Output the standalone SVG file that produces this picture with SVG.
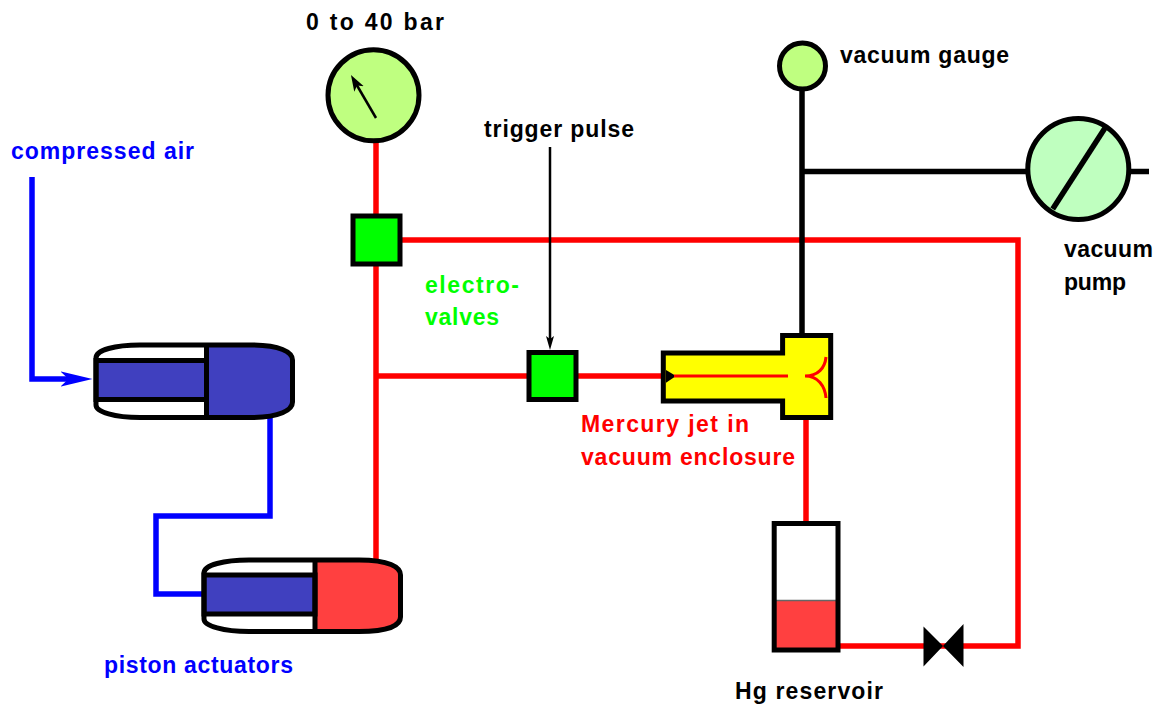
<svg xmlns="http://www.w3.org/2000/svg" width="1159" height="704" viewBox="0 0 1159 704">
<style>
text{font-family:"Liberation Sans",Arial,sans-serif;font-size:23px;font-weight:700;word-spacing:0}
.k{fill:#000}.b{fill:#0000ff}.r{fill:#ff0000}.g{fill:#00ff00}
.pr{fill:none;stroke:#ff0000;stroke-width:5.500}
.pb{fill:none;stroke:#0000ff;stroke-width:5.500}
.pk{fill:none;stroke:#000;stroke-width:5.500}
.o{stroke:#000;stroke-width:5}
.bl{fill:#4040bf}
</style>
<defs>
<marker id="ah" markerWidth="16" markerHeight="14" refX="8" refY="7" orient="auto" markerUnits="userSpaceOnUse"><path d="M0 1.500L16 7L0 12.500L4 7Z" fill="#000"/></marker>
<marker id="at" markerWidth="14" markerHeight="10" refX="7" refY="5" orient="auto" markerUnits="userSpaceOnUse"><path d="M0 1L14 5L0 9L3 5Z" fill="#000"/></marker>
<marker id="ab" markerWidth="32" markerHeight="16" refX="12" refY="8" orient="auto" markerUnits="userSpaceOnUse"><path d="M0 0.500L32 8L0 15.500L8 8Z" fill="#0000ff"/></marker>
</defs>
<rect width="1159" height="704" fill="#fff"/>
<g id="connectors">
<path class="pr" d="M376 140V560"/>
<path class="pr" d="M376 376H664"/>
<path class="pr" d="M400 240H1018V646H840"/>
<path class="pr" d="M806 416V524"/>
<path class="pk" d="M802 88V336"/>
<path class="pk" d="M802 171.500H1030"/>
<path class="pk" d="M1128 171.500H1149"/>
<path class="pb" d="M32 177V379H72.500" marker-end="url(#ab)"/>
<path class="pb" d="M270 416V516H156V594H205"/>
<path d="M550 147V343" fill="none" stroke="#000" stroke-width="2.500" marker-end="url(#at)"/>
</g>
<g id="pressure-gauge">
<circle class="o" cx="373.500" cy="95.300" r="45.500" fill="#bfff80"/>
<path d="M376 118L355 82" stroke="#000" stroke-width="2.500" marker-end="url(#ah)" fill="none"/>
</g>
<g id="vacuum-gauge"><circle class="o" cx="802.500" cy="66" r="23" fill="#bfff80"/></g>
<g id="vacuum-pump">
<circle class="o" cx="1078.300" cy="169" r="50.500" fill="#bfffbf"/>
<path class="pk" d="M1105 128L1052.700 209"/>
</g>
<g id="valve-top"><rect class="o" x="353" y="216" width="47" height="48" fill="#00ff00"/></g>
<g id="valve-mid"><rect class="o" x="529" y="352.500" width="47" height="47" fill="#00ff00"/></g>
<g id="enclosure">
<path d="M663.300 353H782.600V335.500H830.700V417.500H782.600V401H663.300Z" fill="#ffff00" stroke="#000" stroke-width="5"/>
<rect x="779" y="366.700" width="8" height="18.600" fill="#ffff00"/>
<path d="M666 370L676 376L666 382.700Z" fill="#000"/>
<path d="M674 376H788" fill="none" stroke="#ff0000" stroke-width="3"/>
<path d="M805 376C818 376 825 368 826 357M805 376C818 376 825 386 826 398" fill="none" stroke="#ff0000" stroke-width="3"/>
</g>
<g id="actuator-top">
<path d="M96 358C96 350 115 345 140 345H250C280 345 292.500 352 292.500 360V402C292.500 410 280 417.500 250 417.500H140C115 417.500 96 412 96 405Z" fill="#fff"/>
<path d="M207 345H250C280 345 292.500 352 292.500 360V402C292.500 410 280 417.500 250 417.500H207Z" class="bl"/>
<path d="M96 360.500H206.500V399.500H96Z" class="bl" stroke="#000" stroke-width="5"/>
<path d="M206.500 345V417.500M96 358C96 350 115 345 140 345H250C280 345 292.500 352 292.500 360V402C292.500 410 280 417.500 250 417.500H140C115 417.500 96 412 96 405Z" fill="none" stroke="#000" stroke-width="5"/>
</g>
<g id="actuator-bottom">
<path d="M204 573C204 565 224 560 249 560H359C389 560 400.500 567 400.500 575V617C400.500 625 389 631.500 359 631.500H249C224 631.500 204 626 204 619Z" fill="#fff"/>
<path d="M315 560H359C389 560 400.500 567 400.500 575V617C400.500 625 389 631.500 359 631.500H315Z" fill="#ff4040"/>
<path d="M204 575H315V614H204Z" class="bl" stroke="#000" stroke-width="5"/>
<path d="M315 560V631.500M204 573C204 565 224 560 249 560H359C389 560 400.500 567 400.500 575V617C400.500 625 389 631.500 359 631.500H249C224 631.500 204 626 204 619Z" fill="none" stroke="#000" stroke-width="5"/>
</g>
<g id="reservoir">
<rect x="775" y="600.500" width="63" height="49" fill="#ff4040"/>
<path d="M775 600.500H838" stroke="#666" stroke-width="1.500"/>
<rect class="o" x="774.200" y="523.500" width="63.800" height="126.500" fill="none"/>
</g>
<g id="valve-needle"><path d="M923.500 626.500L943 646L963.500 624V667L943 646L923.500 666.500Z" fill="#000"/></g>
<g id="labels">
<text class="k" x="306" y="30" textLength="138">0 to 40 bar</text>
<text class="k" x="840" y="63" textLength="169">vacuum gauge</text>
<text class="k" x="484" y="137" textLength="150">trigger pulse</text>
<text class="b" x="11" y="159" textLength="183">compressed air</text>
<text class="g" x="425" y="293" textLength="94">electro-</text>
<text class="g" x="425" y="325" textLength="74">valves</text>
<text class="k" x="1064" y="257" textLength="89">vacuum</text>
<text class="k" x="1064" y="290" textLength="62">pump</text>
<text class="r" x="581" y="432" textLength="168">Mercury jet in</text>
<text class="r" x="581" y="465" textLength="214">vacuum enclosure</text>
<text class="b" x="104" y="673" textLength="189">piston actuators</text>
<text class="k" x="735" y="699" textLength="148">Hg reservoir</text>
</g>
</svg>
